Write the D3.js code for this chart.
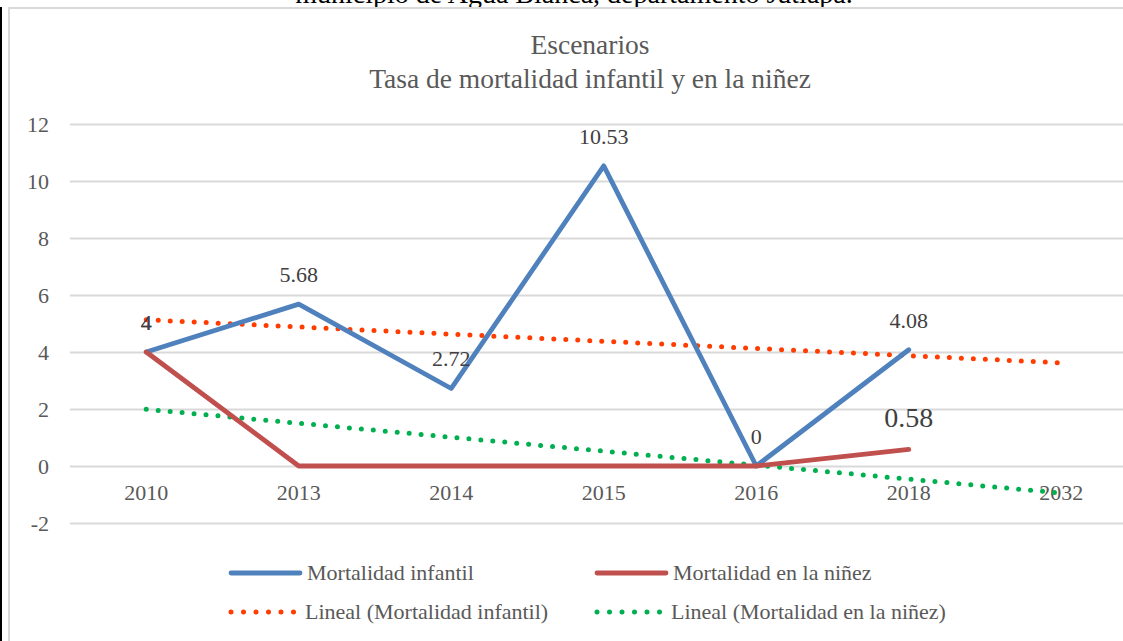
<!DOCTYPE html>
<html>
<head>
<meta charset="utf-8">
<script src="https://cdn.jsdelivr.net/npm/d3@7"></script>
<style>
  body { margin: 0; background: #fff; }
  svg { display: block; font-family: "Liberation Serif", serif; }
</style>
</head>
<body>
<div id="chart"></div>
<script>
// chart data
const years = ["2010", "2013", "2014", "2015", "2016", "2018", "2032"];
const infantil = [4, 5.68, 2.72, 10.53, 0, 4.08];
const ninez = [4, 0, 0, 0, 0, 0.58];
const ninezShowLabel = [true, false, false, false, false, true];
const trendInfantil = [5.13, 3.62];   // value at 2010 and at 2032
const trendNinez = [1.99, -0.95];
const yTicks = [-2, 0, 2, 4, 6, 8, 10, 12];
const legendNames = ["Mortalidad infantil", "Mortalidad en la niñez",
    "Lineal (Mortalidad infantil)", "Lineal (Mortalidad en la niñez)"];

const width = 1123;
const height = 641;
const blue = "#4F81BD", red = "#C0504D", orange = "#FF3D00", green = "#00B050";

const svg = d3.select("#chart")
    .append("svg")
    .attr("width", width)
    .attr("height", height);

// heading of the page above the chart (only its lower part shows)
svg.append("text")
    .attr("x", 574)
    .attr("y", 3)
    .attr("text-anchor", "middle")
    .style("font-size", "28px")
    .style("fill", "#000")
    .text("municipio de Agua Blanca, departamento Jutiapa.");

// black edge on the left and the chart frame
svg.append("rect").attr("x", 0).attr("y", 7).attr("width", 2).attr("height", height).style("fill", "#000");
svg.append("rect")
    .attr("x", 9).attr("y", 8)
    .attr("width", width + 20).attr("height", height + 20)
    .style("fill", "none")
    .style("stroke", "#d9d9d9")
    .style("stroke-width", 2);

// title
const title = svg.append("text")
    .attr("text-anchor", "middle")
    .style("font-size", "27.5px")
    .style("fill", "#595959");
title.append("tspan").attr("x", 590).attr("y", 54).text("Escenarios");
title.append("tspan").attr("x", 590).attr("y", 88).text("Tasa de mortalidad infantil y en la niñez");

// scales
const x = d3.scaleBand()
    .domain(years)
    .range([70, 70 + 152.5 * years.length])
    .paddingInner(0);
const cx = d => x(d) + x.bandwidth() / 2;

const y = d3.scaleLinear()
    .domain([-2, 12])
    .range([523, 124]);

// y axis with gridlines
const yAxis = svg.append("g")
    .attr("transform", "translate(70,0)")
    .call(d3.axisLeft(y)
        .tickValues(yTicks)
        .tickSize(-(width - 60))
        .tickPadding(21)
        .tickFormat(d => String(d)));
yAxis.select(".domain").remove();
yAxis.selectAll("line").style("stroke", "#d9d9d9").style("stroke-width", 1.8);
yAxis.selectAll("text")
    .style("font-family", "Liberation Serif")
    .style("font-size", "22px")
    .style("fill", "#595959");

// x axis labels
const xAxis = svg.append("g")
    .attr("transform", `translate(0,${y(0)})`)
    .call(d3.axisBottom(x).tickSize(0).tickPadding(18));
xAxis.select(".domain").remove();
xAxis.selectAll("text")
    .style("font-family", "Liberation Serif")
    .style("font-size", "22px")
    .style("fill", "#595959");

// trendlines
const line = d3.line().x(d => cx(d[0])).y(d => y(d[1]));
const lastYear = years[years.length - 1];

function drawTrend(vals, color) {
    svg.append("path")
        .datum([[years[0], vals[0]], [lastYear, vals[1]]])
        .attr("d", line)
        .style("fill", "none")
        .style("stroke", color)
        .style("stroke-width", 5)
        .style("stroke-linecap", "round")
        .style("stroke-dasharray", "0 12");
}

// series lines
function drawSeries(vals, color) {
    svg.append("path")
        .datum(vals.map((v, i) => [years[i], v]))
        .attr("d", line)
        .style("fill", "none")
        .style("stroke", color)
        .style("stroke-width", 4.8)
        .style("stroke-linejoin", "round")
        .style("stroke-linecap", "round");
}

drawTrend(trendInfantil, orange);
drawTrend(trendNinez, green);
drawSeries(infantil, blue);
drawSeries(ninez, red);

// data labels
svg.selectAll(".lblInf")
    .data(infantil)
    .enter().append("text")
    .attr("class", "lblInf")
    .attr("x", (d, i) => cx(years[i]))
    .attr("y", d => y(d) - 22)
    .attr("text-anchor", "middle")
    .style("font-size", "22px")
    .style("fill", "#404040")
    .text(d => String(d));

svg.selectAll(".lblNin")
    .data(ninez.map((v, i) => ({ v: v, i: i })).filter(d => ninezShowLabel[d.i]))
    .enter().append("text")
    .attr("class", "lblNin")
    .attr("x", d => cx(years[d.i]))
    .attr("y", d => y(d.v) - 22)
    .attr("text-anchor", "middle")
    .style("font-size", d => d.i === 0 ? "22px" : "28px")
    .style("fill", "#404040")
    .text(d => String(d.v));

// legend
const legendPos = [[230, 573], [596, 573], [230, 612], [596, 612]];
const legendColor = [blue, red, orange, green];
const legendDotted = [false, false, true, true];

const legend = svg.selectAll(".legends")
    .data(legendNames)
    .enter().append("g")
    .attr("class", "legends")
    .attr("transform", (d, i) => `translate(${legendPos[i][0]},${legendPos[i][1]})`);

legend.append("line")
    .attr("x1", 1).attr("x2", (d, i) => legendDotted[i] ? 65 : 70)
    .attr("y1", 0).attr("y2", 0)
    .style("stroke", (d, i) => legendColor[i])
    .style("stroke-width", (d, i) => legendDotted[i] ? 5 : 4.8)
    .style("stroke-linecap", "round")
    .style("stroke-dasharray", (d, i) => legendDotted[i] ? "0 12.5" : null);

legend.append("text")
    .attr("x", (d, i) => legendDotted[i] ? 75 : 77)
    .attr("y", 7)
    .style("font-size", "22px")
    .style("fill", "#595959")
    .text(d => d);
</script>
</body>
</html>
